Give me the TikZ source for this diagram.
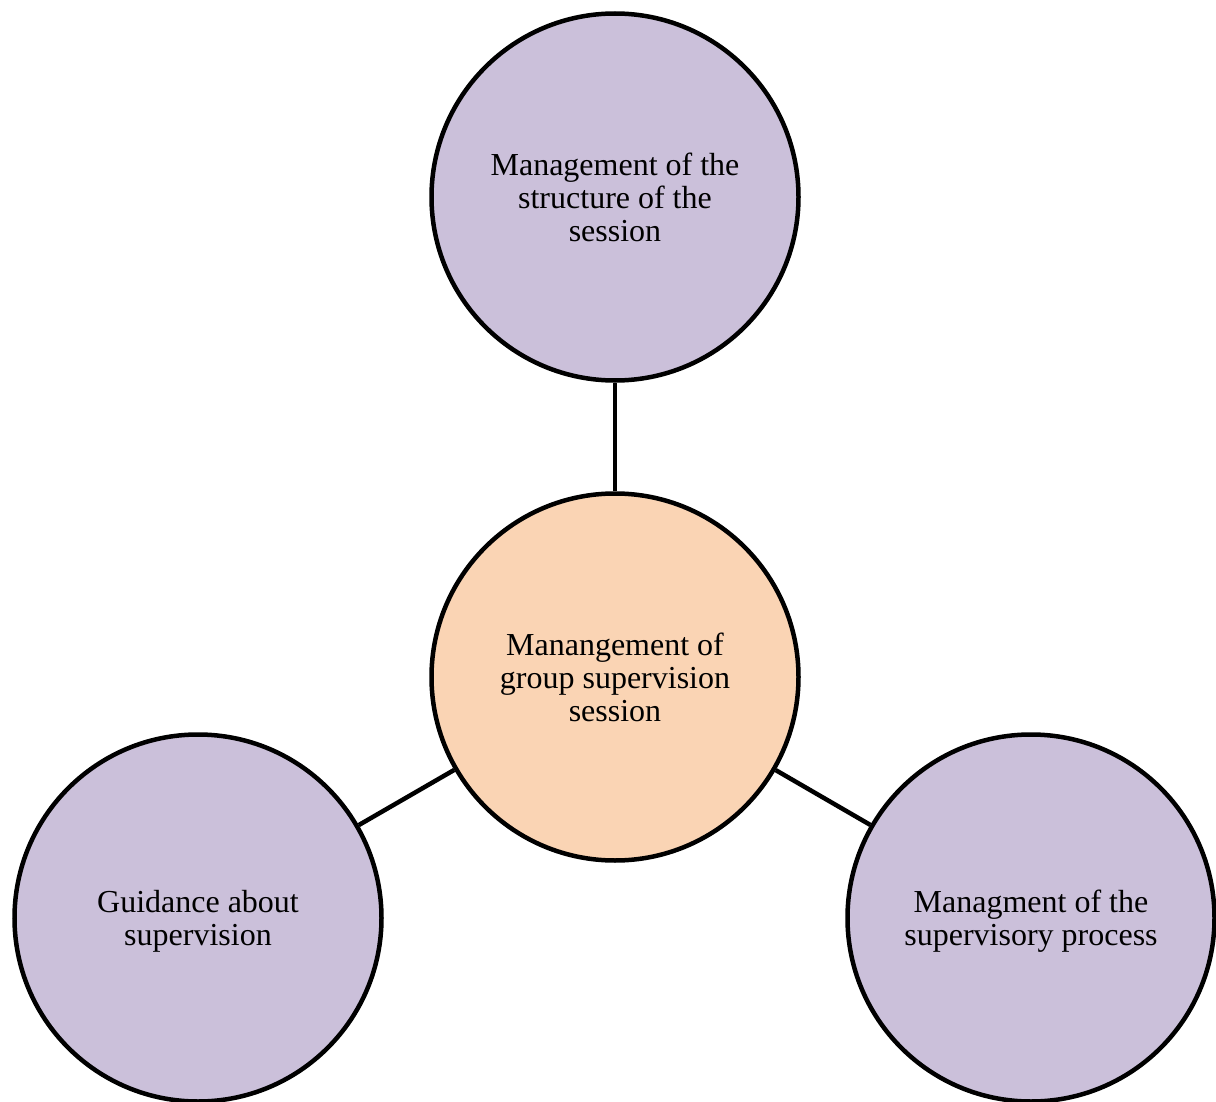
\documentclass[tikz,border=0pt]{standalone}
\usepackage{fontspec}
\setmainfont{Liberation Serif}
% two-line captions sit a little below the circle centre
\newcommand{\lowtwo}[2]{\raisebox{-4pt}[\height][\depth]{\begin{tabular}{@{}c@{}}#1\\#2\end{tabular}}}
\begin{document}
\begin{tikzpicture}[x=1pt,y=1pt,
  bubble/.style={circle, draw=black, line width=4.5pt, minimum size=367pt,
    inner sep=0pt, align=center, font=\fontsize{32}{33}\selectfont},
  topic/.style={bubble, fill=topicfill},
  hub/.style={bubble, fill=hubfill},
  link/.style={draw=black, line width=4.5pt}]
\definecolor{topicfill}{RGB}{203,192,218}
\definecolor{hubfill}{RGB}{250,212,180}
\useasboundingbox (0,0) rectangle (1216,-1102);
% central session bubble and its three aspects
\node[hub]   (hub)   at (615,-677)  {Manangement of\\group supervision\\session};
\node[topic] (top)   at (615,-197)  {Management of the\\structure of the\\session};
\node[topic] (left)  at (198,-918)  {\lowtwo{Guidance about}{supervision}};
\node[topic] (right) at (1031,-918) {\lowtwo{Managment of the}{supervisory process}};
% spokes
\draw[link] (hub) -- (top);
\draw[link] (hub) -- (left);
\draw[link] (hub) -- (right);
\end{tikzpicture}
\end{document}
